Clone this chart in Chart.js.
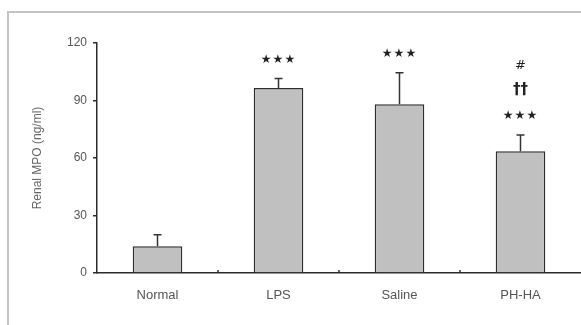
<!DOCTYPE html>
<html lang="en">
<head>
    <meta charset="UTF-8" />
    <title>Renal MPO</title>
    <script src="https://cdn.jsdelivr.net/npm/chart.js"></script>
    <style>
        html, body {
            margin: 0;
            padding: 0;
            background: #fff;
            overflow: hidden;
        }
        .wrap {
            position: relative;
            width: 581px;
            height: 325px;
        }
        .frame {
            position: absolute;
            left: 7px;
            top: 11px;
            right: -10px;
            bottom: -10px;
            border-top: 2px solid #c4c4c4;
            border-left: 2px solid #c4c4c4;
        }
        canvas {
            position: absolute;
            left: 0;
            top: 0;
        }
    </style>
</head>
<body>
    <div class="wrap">
        <div class="frame"></div>
        <canvas id="mpoChart" width="581" height="325"></canvas>
    </div>

    <script>
        const groups = ['Normal', 'LPS', 'Saline', 'PH-HA'];
        const mpoMean = [14, 96.5, 88, 63.5];
        const mpoError = [6, 5, 16.5, 8.5];
        // significance marks, listed from the bottom line upwards
        const marks = [[], ['★★★'], ['★★★'], ['★★★', '††', '#']];
        const yTicks = [0, 30, 60, 90, 120];

        const axisColor = '#2b2b2b';

        // upward error bars + significance labels
        const errorBars = {
            id: 'errorBars',
            afterDatasetsDraw(chart) {
                const ctx = chart.ctx;
                const x = chart.scales.x;
                const y = chart.scales.y;
                ctx.save();
                ctx.strokeStyle = '#333';
                ctx.lineWidth = 1.5;
                groups.forEach((g, i) => {
                    const px = x.getPixelForValue(i);
                    const top = y.getPixelForValue(mpoMean[i]);
                    const cap = y.getPixelForValue(mpoMean[i] + mpoError[i]);
                    ctx.beginPath();
                    ctx.moveTo(px, top);
                    ctx.lineTo(px, cap);
                    ctx.moveTo(px - 4, cap);
                    ctx.lineTo(px + 4, cap);
                    ctx.stroke();

                    ctx.fillStyle = '#222';
                    ctx.textAlign = 'center';
                    ctx.textBaseline = 'middle';
                    let ty = cap - 19;
                    marks[i].forEach((m) => {
                        if (m === '#') {
                            ctx.font = '13px "DejaVu Sans"';
                            ty = cap - 69;
                        } else if (m === '††') {
                            ctx.font = 'bold 15px "DejaVu Sans"';
                            ty = cap - 45;
                        } else {
                            ctx.font = '12px "DejaVu Sans"';
                            ctx.letterSpacing = '1px';
                        }
                        ctx.fillText(m, px, ty);
                        ctx.letterSpacing = '0px';
                    });
                });

                // small marks between categories on the baseline
                ctx.strokeStyle = axisColor;
                ctx.lineWidth = 1.5;
                const base = y.getPixelForValue(0);
                for (let i = 0; i < groups.length - 1; i++) {
                    const bx = (x.getPixelForValue(i) + x.getPixelForValue(i + 1)) / 2;
                    ctx.beginPath();
                    ctx.moveTo(bx, base);
                    ctx.lineTo(bx, base - 3);
                    ctx.stroke();
                }
                ctx.restore();
            }
        };

        const ctx = document.getElementById('mpoChart').getContext('2d');

        new Chart(ctx, {
            type: 'bar',
            data: {
                labels: groups,
                datasets: [{
                    data: mpoMean,
                    backgroundColor: '#c0c0c0',
                    borderColor: '#2e2e2e',
                    borderWidth: 1.5,
                    borderSkipped: 'bottom',
                    barPercentage: 0.41,
                    categoryPercentage: 1
                }]
            },
            options: {
                responsive: false,
                animation: false,
                layout: {
                    padding: { top: 43, right: 0, left: 30, bottom: 0 }
                },
                plugins: {
                    legend: { display: false },
                    tooltip: { enabled: false }
                },
                scales: {
                    x: {
                        grid: { display: false },
                        border: { color: axisColor, width: 1.5 },
                        ticks: {
                            color: '#555',
                            font: { family: 'Liberation Sans', size: 13 },
                            padding: 7
                        },
                        afterFit(scale) { scale.height = 52; }
                    },
                    y: {
                        min: 0,
                        max: 120,
                        afterBuildTicks(scale) {
                            scale.ticks = yTicks.map(v => ({ value: v }));
                        },
                        grid: {
                            drawOnChartArea: false,
                            color: axisColor,
                            tickLength: 4,
                            lineWidth: 1.5
                        },
                        border: { color: axisColor, width: 1.5 },
                        ticks: {
                            color: '#555',
                            font: { family: 'Liberation Sans', size: 12 },
                            padding: 6
                        },
                        title: {
                            display: true,
                            text: 'Renal MPO (ng/ml)',
                            color: '#666',
                            font: { family: 'Liberation Sans', size: 12 },
                            padding: 0
                        },
                        afterFit(scale) { scale.width = 67; }
                    }
                }
            },
            plugins: [errorBars]
        });
    </script>
</body>
</html>
